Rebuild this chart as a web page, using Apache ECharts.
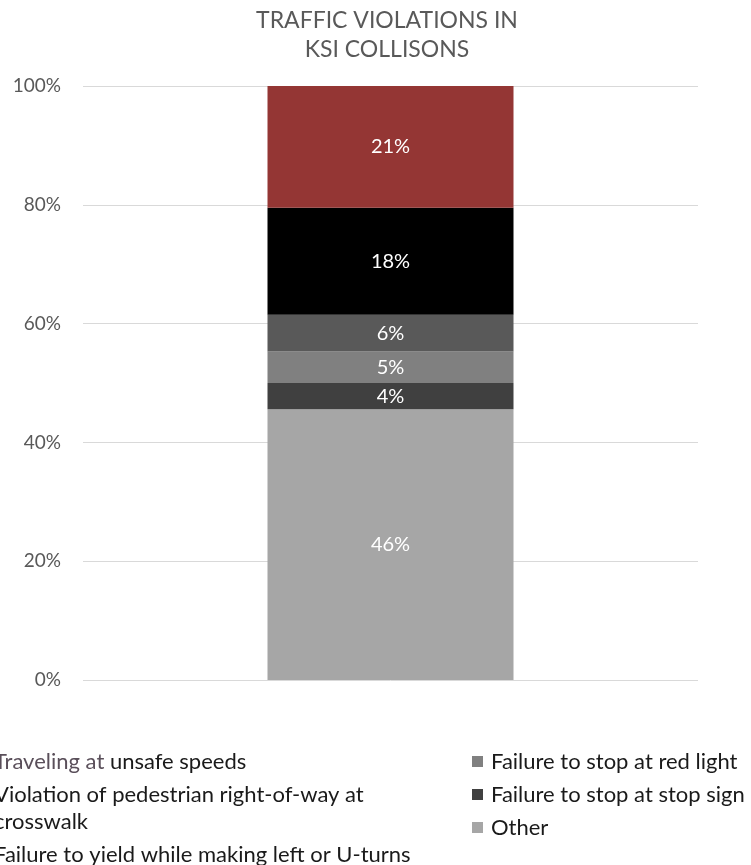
<!DOCTYPE html>
<html>
<head>
<meta charset="utf-8">
<script src="https://cdn.jsdelivr.net/npm/echarts@6/dist/echarts.min.js"></script>
<style>
  html, body { margin: 0; padding: 0; background: #fff; }
  #chart { width: 751px; height: 865px; }
</style>
</head>
<body>
<div id="chart"></div>
<script>
// stacked column, bottom to top
const categories = ['KSI']
const seriesNames = [
  'Other',
  'Failure to stop at stop sign',
  'Failure to stop at red light',
  'Failure to yield while making left or U-turns',
  'Violation of pedestrian right-of-way at crosswalk',
  'Traveling at unsafe speeds'
]
const seriesValues = [45.6, 4.4, 5.3, 6.2, 18.0, 20.5]
const seriesColors = ['#a6a6a6', '#404040', '#808080', '#595959', '#000000', '#943634']
const yTicks = [0, 20, 40, 60, 80, 100]

const font = 'Lato, "Open Sans", sans-serif'
const chart = echarts.init(document.getElementById('chart'))

const series = seriesNames.map((name, i) => ({
  name: name,
  type: 'bar',
  stack: 'total',
  barWidth: '40%',
  data: [seriesValues[i]],
  itemStyle: { color: seriesColors[i] },
  label: {
    show: true,
    position: 'inside',
    color: '#fff',
    fontSize: 20,
    fontFamily: font,
    formatter: p => Math.round(p.value) + '%'
  }
}))

const legendText = {
  fontSize: 22,
  fontFamily: font,
  color: '#1a1a1a',
  lineHeight: 27,
  rich: {
    a: { fontSize: 22, fontFamily: font, color: '#5a4f5a', lineHeight: 27 }
  }
}

chart.setOption({
  animation: false,
  title: {
    text: 'TRAFFIC VIOLATIONS IN\nKSI COLLISONS',
    left: 382,
    textAlign: 'center',
    top: 1,
    textStyle: { color: '#595959', fontSize: 23, fontWeight: 'normal', fontFamily: font, lineHeight: 29 }
  },
  grid: { left: 83, right: 53, top: 86, bottom: 185 },
  xAxis: {
    type: 'category',
    data: categories,
    axisLine: { show: false },
    axisTick: { show: false },
    axisLabel: { show: false }
  },
  yAxis: {
    type: 'value',
    min: yTicks[0],
    max: yTicks[yTicks.length - 1],
    interval: 20,
    axisLine: { show: false },
    axisTick: { show: false },
    axisLabel: { formatter: '{value}%', color: '#595959', fontSize: 19, fontFamily: font, margin: 22 },
    splitLine: { lineStyle: { color: '#d9d9d9', width: 1 } }
  },
  legend: [
    {
      orient: 'vertical',
      left: -27,
      top: 743,
      height: 200,
      itemWidth: 11,
      itemHeight: 11,
      itemGap: 6,
      icon: 'rect',
      selectedMode: false,
      data: ['Traveling at unsafe speeds', 'Violation of pedestrian right-of-way at crosswalk', 'Failure to yield while making left or U-turns'],
      formatter: n => n === 'Traveling at unsafe speeds' ? '{a|Traveling at} unsafe speeds'
        : n.replace('right-of-way at crosswalk', 'right-of-way at\ncrosswalk'),
      textStyle: legendText
    },
    {
      orient: 'vertical',
      left: 467,
      top: 743,
      height: 200,
      itemWidth: 11,
      itemHeight: 11,
      itemGap: 6,
      icon: 'rect',
      selectedMode: false,
      data: ['Failure to stop at red light', 'Failure to stop at stop sign', 'Other'],
      textStyle: Object.assign({}, legendText, { padding: [0, 0, 0, 3] })
    }
  ],
  series: series
})
</script>
</body>
</html>
